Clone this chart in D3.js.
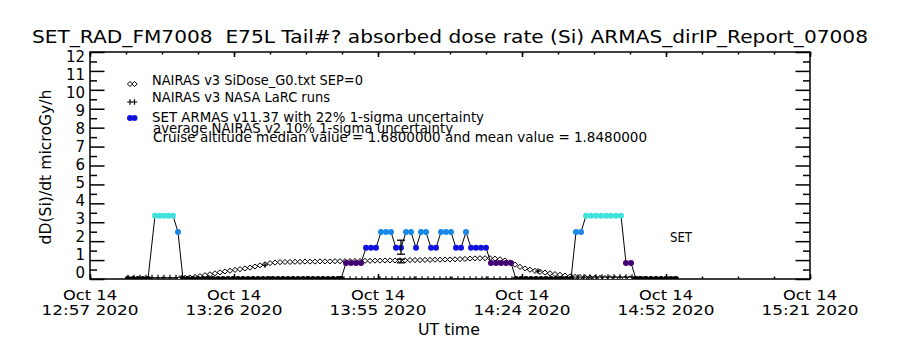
<!DOCTYPE html>
<html lang="en">
<head>
<meta charset="UTF-8">
<title>SET_RAD_FM7008 absorbed dose rate (Si)</title>
<script src="https://d3js.org/d3.v7.min.js"></script>
<style>
  body { margin: 0; background: #fff; }
  svg { display: block; font-family: "DejaVu Sans", sans-serif; }
  .axis line { stroke: #000; stroke-width: 1.5; }
  text { fill: #000; white-space: pre; }
</style>
</head>
<body>
<svg id="chart" width="900" height="350"></svg>
<script>
// x values are minutes after 12:57 UT, Oct 14 2020
const xMajorTicks = [0, 28.8, 57.6, 86.4, 115.2, 144];
const xTickDay = ["Oct 14", "Oct 14", "Oct 14", "Oct 14", "Oct 14", "Oct 14"];
const xTickTime = ["12:57 2020", "13:26 2020", "13:55 2020", "14:24 2020", "14:52 2020", "15:21 2020"];
const yTicks = [0, 1, 2, 3, 4, 5, 6, 7, 8, 9, 10, 11, 12];

// SET ARMAS v11.37
const armasTime = [7.6, 8.6, 9.6, 10.6, 11.6, 13, 13.9, 14.8, 15.7, 16.6, 17.6,
  18.6, 19.6, 20.6, 21.6, 22.6, 23.6, 24.6, 25.6, 26.6, 27.6, 28.6, 29.6, 30.6, 31.6, 32.6, 33.6,
  34.6, 35.6, 36.6, 37.6, 38.6, 39.6, 40.6, 41.6, 42.6, 43.6, 44.6, 45.6, 46.6, 47.6, 48.6, 49.6,
  50.2, 51.2, 52.2, 53.2, 54.2, 55.2, 56.2, 57.2, 58.2, 59.2, 60.2, 61.2, 62.2, 63.2, 64.2,
  65.2, 66.2, 67.2, 68.2, 69.2, 70.2, 71.2, 72.2, 73.2, 74.2, 75.2, 76.2, 77.2, 78.2, 79.2,
  80.2, 81.2, 82.2, 83.2, 84.2, 85.2, 86.2, 87.2, 88.2, 89.2, 90.2, 91.2, 92.2, 93.2, 94.2,
  95.2, 96.2, 97.2, 98.2, 99.2, 100.2, 101.2, 102.2, 103.2, 104.2, 105.2, 106.2, 107.2, 108.2,
  109.2, 110.2, 111.2, 112.2, 113.2, 114.2, 115.2, 116.2, 117.2];
const armasDose = [0, 0, 0, 0, 0, 3.35, 3.35, 3.35, 3.35, 3.35, 2.48,
  0, 0, 0, 0, 0, 0, 0, 0, 0, 0, 0, 0, 0, 0, 0, 0,
  0, 0, 0, 0, 0, 0, 0, 0, 0, 0, 0, 0, 0, 0, 0, 0,
  0, 0.85, 0.85, 0.85, 0.85, 1.65, 1.65, 1.65, 2.48, 2.48, 2.48, 1.65, 1.65, 2.48, 2.48,
  1.65, 2.48, 2.48, 1.65, 1.65, 2.48, 2.48, 2.48, 1.65, 1.65, 2.48, 1.65, 1.65, 1.65, 1.65,
  0.85, 0.85, 0.85, 0.85, 0.85, 0, 0, 0, 0, 0, 0, 0, 0, 0, 0,
  0, 0, 2.48, 2.48, 3.35, 3.35, 3.35, 3.35, 3.35, 3.35, 3.35, 3.35, 0.85, 0.85,
  0, 0, 0, 0, 0, 0, 0, 0, 0];
const armasLevels = [0.5, 1.2, 2.0, 3.0];
const armasColors = ["#000000", "#420072", "#1212e0", "#1a88e8", "#3fe3dc"];

// NAIRAS v3 SiDose_G0.txt SEP=0
const nairasTime = [18, 19, 20, 21, 22, 23, 24, 25, 26, 27, 28, 29, 30, 31, 32, 33, 34, 35, 36, 37,
  38, 39, 40, 41, 42, 43, 44, 45, 46, 47, 48, 49, 50, 51, 52, 53, 54, 55, 56, 57,
  58, 59, 60, 61, 62, 63, 64, 65, 66, 67, 68, 69, 70, 71, 72, 73, 74, 75, 76, 77,
  78, 79, 80, 81, 82, 83, 84, 85, 86, 87, 88, 89, 90, 91, 92, 93, 94, 95, 96, 97,
  98, 99, 100, 101, 102, 103, 104, 105, 106, 107, 108, 109, 110];
const nairasDose = [0.04, 0.06, 0.08, 0.11, 0.15, 0.2, 0.25, 0.3, 0.35, 0.4, 0.44, 0.48, 0.52, 0.56, 0.6, 0.66, 0.72, 0.78, 0.84, 0.87,
  0.89, 0.9, 0.9, 0.91, 0.91, 0.92, 0.92, 0.92, 0.93, 0.93, 0.93, 0.94, 0.94, 0.94, 0.95, 0.95, 0.95, 0.96, 0.96, 0.97,
  0.97, 0.98, 0.98, 0.98, 0.99, 0.99, 1.0, 1.0, 1.0, 1.01, 1.01, 1.02, 1.02, 1.03, 1.03, 1.04, 1.05, 1.06, 1.08, 1.09,
  1.1, 1.1, 1.1, 1.08, 1.04, 0.98, 0.88, 0.76, 0.64, 0.56, 0.49, 0.43, 0.38, 0.34, 0.3, 0.26, 0.22, 0.18, 0.14, 0.11,
  0.1, 0.09, 0.08, 0.07, 0.06, 0.05, 0.05, 0.04, 0.04, 0.03, 0.03, 0.02, 0.02];

// NAIRAS v3 NASA LaRC runs
const larcTime = [7.6, 8.8, 10, 11.2, 12.4, 13.6, 14.8, 16, 17.2, 18.4, 35,
  50.8, 52, 53.2, 54.4, 55.6, 56.8, 58, 59.2, 60.4, 61.6, 62.8, 64, 65.2, 66.4, 67.6, 68.8, 70,
  71.2, 72.4, 73.6, 74.8, 76, 77.2, 78.4, 79.6, 80.8, 82, 83.2, 84.4, 89.6,
  96.4, 97.6, 98.8, 100, 101.2, 102.4, 103.6, 104.8, 106, 107.2, 108.4,
  109.6, 110.8, 112, 113.2, 114.4, 115.6, 116.8];
const larcDose = [0.08, 0.08, 0.08, 0.08, 0.08, 0.08, 0.08, 0.08, 0.08, 0.08, 0.74,
  0, 0, 0, 0, 0, 0, 0, 0, 0, 0, 0, 0, 0, 0, 0, 0, 0,
  0, 0, 0, 0, 0, 0, 0, 0, 0, 0, 0, 0, 0.42,
  0.1, 0.1, 0.1, 0.1, 0.1, 0.1, 0.1, 0.1, 0.1, 0.1, 0.1,
  0, 0, 0, 0, 0, 0, 0];

// cruise altitude summary (error bars)
const cruiseTime = 62.2;
const armasMedian = 1.68, armasSigma = 0.22;
const nairasAvg = 0.95, nairasSigma = 0.10;

const legendLines = [
  "NAIRAS v3 SiDose_G0.txt SEP=0",
  "NAIRAS v3 NASA LaRC runs",
  "SET ARMAS v11.37 with 22% 1-sigma uncertainty",
  "average NAIRAS v2 10% 1-sigma uncertainty",
  "Cruise altitude median value = 1.6800000 and mean value = 1.8480000"
];

const svg = d3.select("#chart");
const pL = 90, pR = 810, pT = 52, pB = 279;

const x = d3.scaleLinear().domain([0, 144]).range([pL, pR]);
const y = d3.scaleLinear().domain([0, 12]).range([pB, pT]);
const yLab = d3.scaleLinear().domain([0, 12]).range([273, 57]);
const colour = d3.scaleThreshold().domain(armasLevels).range(armasColors);

// title
svg.append("text").attr("x", 32).attr("y", 43)
  .attr("font-size", 18).attr("textLength", 836).attr("lengthAdjust", "spacingAndGlyphs")
  .text("SET_RAD_FM7008  E75L Tail#? absorbed dose rate (Si) ARMAS_dirIP_Report_07008");

// axes ticks
const minorX = d3.range(0, 144.01, 7.2);
const minorY = d3.range(0.5, 12, 1);
function noDomain(g) { g.select(".domain").remove(); }

svg.append("g").attr("class", "axis").attr("transform", `translate(0,${pB})`)
  .call(d3.axisBottom(x).tickValues(xMajorTicks).tickSize(-5).tickSizeOuter(0).tickFormat("")).call(noDomain);
svg.append("g").attr("class", "axis").attr("transform", `translate(0,${pB})`)
  .call(d3.axisBottom(x).tickValues(minorX).tickSize(-2.5).tickSizeOuter(0).tickFormat("")).call(noDomain);
svg.append("g").attr("class", "axis").attr("transform", `translate(0,${pT})`)
  .call(d3.axisTop(x).tickValues(xMajorTicks).tickSize(-5).tickSizeOuter(0).tickFormat("")).call(noDomain);
svg.append("g").attr("class", "axis").attr("transform", `translate(0,${pT})`)
  .call(d3.axisTop(x).tickValues(minorX).tickSize(-2.5).tickSizeOuter(0).tickFormat("")).call(noDomain);

svg.append("g").attr("class", "axis").attr("transform", `translate(${pL},0)`)
  .call(d3.axisLeft(y).tickValues(yTicks).tickSize(-14.5).tickSizeOuter(0).tickFormat("")).call(noDomain);
svg.append("g").attr("class", "axis").attr("transform", `translate(${pL},0)`)
  .call(d3.axisLeft(y).tickValues(minorY).tickSize(-7).tickSizeOuter(0).tickFormat("")).call(noDomain);
svg.append("g").attr("class", "axis").attr("transform", `translate(${pR},0)`)
  .call(d3.axisRight(y).tickValues(yTicks).tickSize(-14.5).tickSizeOuter(0).tickFormat("")).call(noDomain);
svg.append("g").attr("class", "axis").attr("transform", `translate(${pR},0)`)
  .call(d3.axisRight(y).tickValues(minorY).tickSize(-7).tickSizeOuter(0).tickFormat("")).call(noDomain);

// frame
svg.append("rect").attr("x", pL).attr("y", pT)
  .attr("width", pR - pL).attr("height", pB - pT)
  .attr("fill", "none").attr("stroke", "#000").attr("stroke-width", 1.5);

// y tick labels
svg.append("g").selectAll("text").data(yTicks).join("text")
  .attr("x", 85).attr("y", d => yLab(d)).attr("dy", "0.36em")
  .attr("text-anchor", "end").attr("font-size", 15)
  .text(d => d);

// x tick labels
const xl = svg.append("g").selectAll("g").data(xMajorTicks).join("g")
  .attr("transform", d => `translate(${x(d)},0)`);
xl.append("text").attr("y", 300).attr("text-anchor", "middle").attr("font-size", 14)
  .attr("textLength", 54).attr("lengthAdjust", "spacingAndGlyphs")
  .text((d, i) => xTickDay[i]);
xl.append("text").attr("y", 315).attr("text-anchor", "middle").attr("font-size", 14)
  .attr("textLength", 97).attr("lengthAdjust", "spacingAndGlyphs")
  .text((d, i) => xTickTime[i]);

// axis titles
svg.append("text").attr("x", 418).attr("y", 335).attr("font-size", 15)
  .attr("textLength", 62).attr("lengthAdjust", "spacingAndGlyphs").text("UT time");
svg.append("text").attr("transform", "translate(51,167) rotate(-90)")
  .attr("text-anchor", "middle").attr("font-size", 15)
  .attr("textLength", 155).attr("lengthAdjust", "spacingAndGlyphs")
  .text("dD(Si)/dt microGy/h");

// data
svg.append("clipPath").attr("id", "plotclip").append("rect")
  .attr("x", pL).attr("y", pT).attr("width", pR - pL).attr("height", pB - pT);
const plot = svg.append("g").attr("clip-path", "url(#plotclip)");

const nairas = nairasTime.map((t, i) => ({ t: t, v: nairasDose[i] }));
const armas = armasTime.map((t, i) => ({ t: t, v: armasDose[i] }));
const larc = larcTime.map((t, i) => ({ t: t, v: larcDose[i] }));

function diamond(cx, cy) {
  return `M${cx - 2.7},${cy}L${cx},${cy - 2.5}L${cx + 2.7},${cy}L${cx},${cy + 2.5}Z`;
}
function plus(cx, cy) {
  return `M${cx - 2.8},${cy}H${cx + 2.8}M${cx},${cy - 2.8}V${cy + 2.8}`;
}

plot.append("g").selectAll("path").data(nairas).join("path")
  .attr("d", d => diamond(x(d.t), y(d.v)))
  .attr("fill", "#fff").attr("stroke", "#000").attr("stroke-width", 1);

plot.append("path").datum(armas)
  .attr("d", d3.line().x(d => x(d.t)).y(d => y(d.v)))
  .attr("fill", "none").attr("stroke", "#000").attr("stroke-width", 1);

plot.append("g").selectAll("circle").data(armas).join("circle")
  .attr("cx", d => x(d.t)).attr("cy", d => y(d.v)).attr("r", 3)
  .attr("fill", d => colour(d.v));

plot.append("g").selectAll("path").data(larc).join("path")
  .attr("d", d => plus(x(d.t), y(d.v)))
  .attr("stroke", "#000").attr("stroke-width", 1.2);

// cruise altitude error bars
const bars = [
  { lo: armasMedian * (1 - armasSigma), hi: armasMedian * (1 + armasSigma) },
  { lo: nairasAvg * (1 - nairasSigma), hi: nairasAvg * (1 + nairasSigma) }
];
const eb = plot.append("g").attr("stroke", "#000").attr("stroke-width", 1.3);
bars.forEach(b => {
  const cx = x(cruiseTime);
  eb.append("line").attr("x1", cx).attr("x2", cx).attr("y1", y(b.lo)).attr("y2", y(b.hi));
  eb.append("line").attr("x1", cx - 4).attr("x2", cx + 4).attr("y1", y(b.lo)).attr("y2", y(b.lo));
  eb.append("line").attr("x1", cx - 4).attr("x2", cx + 4).attr("y1", y(b.hi)).attr("y2", y(b.hi));
});

// legend
const lg = svg.append("g");
[130, 134.5].forEach(cx => {
  lg.append("path").attr("d", diamond(cx, 84)).attr("fill", "#fff").attr("stroke", "#000");
  lg.append("path").attr("d", plus(cx, 102)).attr("stroke", "#000").attr("stroke-width", 1.2);
  lg.append("circle").attr("cx", cx).attr("cy", 118).attr("r", 3).attr("fill", armasColors[2]);
});
const legendPos = [
  { x: 152, y: 85, w: 211 },
  { x: 152, y: 102, w: 178 },
  { x: 152, y: 122, w: 332 },
  { x: 153, y: 133, w: 300 },
  { x: 153, y: 141.5, w: 494 }
];
legendLines.forEach((s, i) => {
  lg.append("text").attr("x", legendPos[i].x).attr("y", legendPos[i].y)
    .attr("font-size", 13.5).attr("textLength", legendPos[i].w)
    .attr("lengthAdjust", "spacingAndGlyphs").text(s);
});

svg.append("text").attr("x", 670).attr("y", 242).attr("font-size", 13.5)
  .attr("textLength", 22).attr("lengthAdjust", "spacingAndGlyphs").text("SET");
</script>
</body>
</html>
